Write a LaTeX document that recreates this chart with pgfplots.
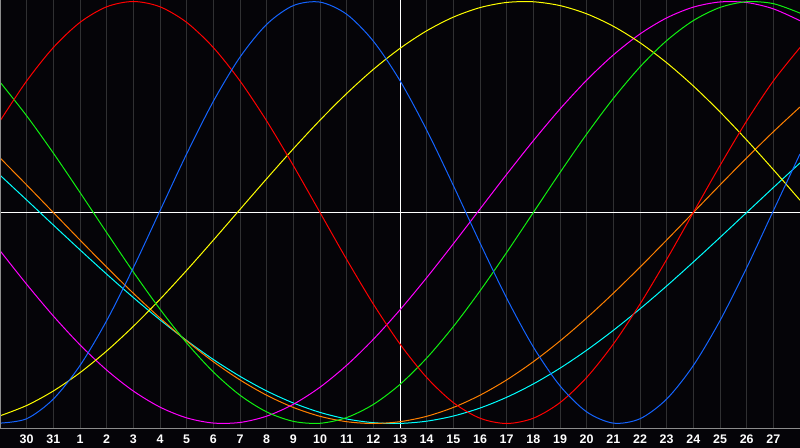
\documentclass[border=0pt]{standalone}
\usepackage{fontspec}
\setmainfont{Liberation Sans}
\usepackage{pgfplots}
\usepackage{pgfplotstable}
\pgfplotsset{compat=1.18}
\definecolor{bg}{RGB}{5,4,8}
\definecolor{gridgray}{RGB}{48,48,50}
\definecolor{framegray}{RGB}{140,140,140}
\definecolor{cblue}{RGB}{20,100,255}
\definecolor{cred}{RGB}{255,0,0}
\definecolor{cgreen}{RGB}{16,240,16}
\definecolor{cyellow}{RGB}{255,255,0}
\definecolor{cmagenta}{RGB}{255,0,255}
\definecolor{corange}{RGB}{255,128,0}
\definecolor{ccyan}{RGB}{0,255,255}
\pgfplotstableread{
k blue red green yellow magenta orange cyan
0 -0.9982 0.4339 0.6182 -0.9637 -0.1809 0.2588 0.1769
1 -0.9774 0.6235 0.4582 -0.9146 -0.3402 0.1305 0.0593
2 -0.8841 0.7818 0.2817 -0.8459 -0.4904 0.0000 -0.0593
3 -0.7251 0.9010 0.0950 -0.7590 -0.6272 -0.1305 -0.1769
4 -0.5125 0.9749 -0.0950 -0.6563 -0.7467 -0.2588 -0.2920
5 -0.2618 1.0000 -0.2817 -0.5395 -0.8461 -0.3827 -0.4031
6 0.0082 0.9749 -0.4582 -0.4112 -0.9223 -0.5000 -0.5086
7 0.2777 0.9010 -0.6182 -0.2741 -0.9733 -0.6088 -0.6068
8 0.5267 0.7818 -0.7557 -0.1311 -0.9978 -0.7071 -0.6966
9 0.7364 0.6235 -0.8660 0.0147 -0.9951 -0.7934 -0.7765
10 0.8916 0.4339 -0.9450 0.1600 -0.9652 -0.8660 -0.8457
11 0.9807 0.2225 -0.9898 0.3020 -0.9090 -0.9239 -0.9028
12 0.9971 0.0000 -0.9989 0.4376 -0.8280 -0.9659 -0.9473
13 0.9395 -0.2225 -0.9718 0.5640 -0.7242 -0.9914 -0.9785
14 0.8121 -0.4339 -0.9096 0.6782 -0.6011 -1.0000 -0.9961
15 0.6247 -0.6235 -0.8146 0.7779 -0.4613 -0.9914 -0.9996
16 0.3909 -0.7818 -0.6900 0.8611 -0.3090 -0.9659 -0.9890
17 0.1281 -0.9010 -0.5406 0.9259 -0.1483 -0.9239 -0.9646
18 -0.1444 -0.9749 -0.3717 0.9711 0.0166 -0.8660 -0.9267
19 -0.4059 -1.0000 -0.1893 0.9955 0.1809 -0.7934 -0.8757
20 -0.6374 -0.9749 0.0000 0.9987 0.3402 -0.7071 -0.8125
21 -0.8215 -0.9010 0.1893 0.9806 0.4904 -0.6088 -0.7378
22 -0.9449 -0.7818 0.3717 0.9416 0.6272 -0.5000 -0.6527
23 -0.9982 -0.6235 0.5406 0.8826 0.7467 -0.3827 -0.5585
24 -0.9774 -0.4339 0.6900 0.8047 0.8461 -0.2588 -0.4566
25 -0.8841 -0.2225 0.8146 0.7097 0.9223 -0.1305 -0.3482
26 -0.7251 0.0000 0.9096 0.5996 0.9733 0.0000 -0.2348
27 -0.5125 0.2225 0.9718 0.4767 0.9978 0.1305 -0.1182
28 -0.2618 0.4339 0.9989 0.3435 0.9951 0.2588 0.0000
29 0.0082 0.6235 0.9898 0.2031 0.9652 0.3827 0.1182
30 0.2777 0.7818 0.9450 0.0584 0.9090 0.5000 0.2348
}\bio
\begin{document}
\begin{tikzpicture}
\fill[bg] (0,-20bp) rectangle (800bp,428bp);
\begin{axis}[
  at={(0,0)}, anchor=south west,
  scale only axis, width=800bp, height=428bp,
  xmin=0, xmax=30, ymin=-1.0213, ymax=1.0071,
  axis line style={draw=none},
  xtick={1,...,29},
  xticklabels={30,31,1,2,3,4,5,6,7,8,9,10,11,12,13,14,15,16,17,18,19,20,21,22,23,24,25,26,27},
  ytick=\empty,
  major tick length=0pt,
  xmajorgrids,
  grid style={gridgray, line width=1bp},
  xticklabel style={anchor=base, yshift=-15.7bp, text=white, font=\fontsize{12.5}{12.5}\selectfont\bfseries},
  every axis plot/.append style={line width=1bp, smooth, no markers},
]
\draw[white, line width=1bp] (axis cs:0,0) -- (axis cs:30,0);
\draw[white, line width=1bp] (axis cs:15,-1.0213) -- (axis cs:15,1.0071);
\addplot[ccyan] table[x=k, y=cyan] {\bio};
\addplot[corange] table[x=k, y=orange] {\bio};
\addplot[cmagenta] table[x=k, y=magenta] {\bio};
\addplot[cyellow] table[x=k, y=yellow] {\bio};
\addplot[cgreen] table[x=k, y=green] {\bio};
\addplot[cred] table[x=k, y=red] {\bio};
\addplot[cblue] table[x=k, y=blue] {\bio};
\draw[framegray, line width=1bp] (rel axis cs:0,0) -- (rel axis cs:0,1) -- (rel axis cs:1,1);
\draw[framegray, line width=1bp] (rel axis cs:0,0) -- (rel axis cs:1,0);
\end{axis}
\pgfresetboundingbox
\useasboundingbox (0,-20bp) rectangle (800bp,428bp);
\end{tikzpicture}
\end{document}
